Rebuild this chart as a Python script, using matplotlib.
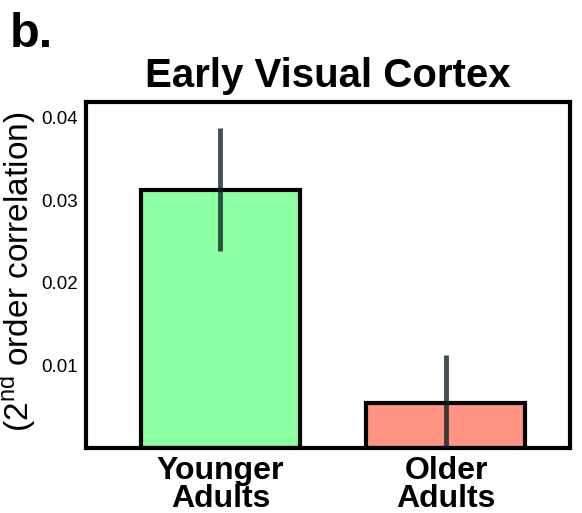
import matplotlib
matplotlib.use("Agg")
import matplotlib.pyplot as plt

plt.rcParams["font.family"] = ["Liberation Sans", "DejaVu Sans"]
plt.rcParams["mathtext.fontset"] = "custom"
plt.rcParams["mathtext.rm"] = "Liberation Sans"

# data
groups = ["Younger\nAdults", "Older\nAdults"]
means = [0.0313, 0.0054]
errors = [0.0074, 0.0059]
colors = ["#8cffa3", "#ff9483"]

fig = plt.figure(figsize=(5.82, 5.13), dpi=100)
ax = fig.add_axes([86 / 582, 65 / 513, 484 / 582, 346 / 513])

x = list(range(len(groups)))
ax.bar(x, means, width=0.705, color=colors, edgecolor="black",
       linewidth=3, zorder=2)
ax.errorbar(x, means, yerr=errors, fmt="none", ecolor="#0d1f25",
            alpha=0.78, elinewidth=3.5, capsize=0, zorder=3)

ax.set_xlim(-0.596, 1.55)
ax.set_ylim(0, 0.0419)
ax.set_yticks([0.01, 0.02, 0.03, 0.04])
ax.set_yticklabels(["0.01", "0.02", "0.03", "0.04"])
ax.set_xticks(x)
ax.set_xticklabels(groups, fontsize=23, fontweight="bold", linespacing=0.9)
ax.tick_params(axis="y", length=0, pad=6, labelsize=13.5)
ax.tick_params(axis="x", length=0, pad=6)
for s in ax.spines.values():
    s.set_linewidth(3)
    s.set_color("black")

ax.set_title("Early Visual Cortex", fontsize=29, fontweight="bold", pad=11)

fig.text(29 / 582, 1 - 272 / 513, r"(2$^{\rm nd}$ order correlation)",
         rotation=90, rotation_mode="anchor", ha="center", va="baseline",
         fontsize=24)
fig.text(10 / 582, 1 - 47 / 513, "b.", fontsize=35, fontweight="bold",
         ha="left", va="baseline")

fig.savefig("out.png", dpi=100)
